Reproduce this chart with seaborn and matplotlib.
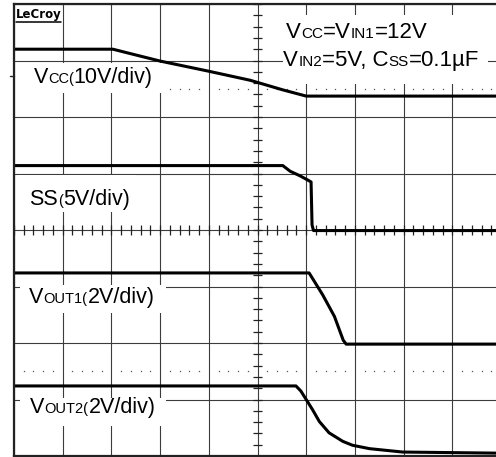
import numpy as np
import pandas as pd
import seaborn as sns
import matplotlib.pyplot as plt
from matplotlib.patches import Rectangle

# Estilo
sns.set_theme(style='white')
plt.rcParams['font.family'] = ['Liberation Sans', 'DejaVu Sans']

vcc_t = [0.0, 2.03, 3.0, 4.0, 4.85, 5.52, 6.0, 10.0]
vcc_v = [7.20, 7.20, 6.99, 6.81, 6.65, 6.48, 6.37, 6.37]

ss_t = [0.0, 5.52, 5.67, 5.87, 6.02, 6.10, 6.12, 6.15, 10.0]
ss_v = [5.14, 5.14, 5.04, 4.96, 4.89, 4.85, 4.09, 3.99, 3.99]

vout1_t = [0.0, 6.06, 6.34, 6.58, 6.76, 6.82, 10.0]
vout1_v = [3.24, 3.24, 2.85, 2.47, 2.05, 1.98, 1.98]

vout2_t = [0.0, 5.79, 5.89, 6.00, 6.13, 6.27, 6.47, 6.75, 6.95, 7.30, 7.98, 10.0]
vout2_v = [1.24, 1.24, 1.15, 1.00, 0.82, 0.61, 0.41, 0.26, 0.19, 0.13, 0.07, 0.05]

traces = {
    'Vcc': (vcc_t, vcc_v),
    'SS': (ss_t, ss_v),
    'Vout1': (vout1_t, vout1_v),
    'Vout2': (vout2_t, vout2_v),
}

# Etiquetas: (texto, grande?)
label_vcc = [('V', True), ('CC(', False), ('10V/div)', True)]
label_ss = [('SS', True), ('(', False), ('5V/div)', True)]
label_vout1 = [('V', True), ('OUT1(', False), ('2V/div)', True)]
label_vout2 = [('V', True), ('OUT2(', False), ('2V/div)', True)]
note_1 = [('V', True), ('CC', False), ('=V', True), ('IN1', False), ('=12V', True)]
note_2 = [('V', True), ('IN2', False), ('=5V, C', True), ('SS', False), ('=0.1µF', True)]

fig = plt.figure(figsize=(4.96, 4.57), dpi=100)
ax = fig.add_axes([14 / 496, 1 / 457, 487 / 496, 452 / 457])
ax.set_xlim(0, 10)
ax.set_ylim(0, 8)
ax.set_facecolor('white')
ax.set_xticks(range(11))
ax.set_yticks(range(9))
ax.tick_params(length=0, labelbottom=False, labelleft=False)
ax.grid(True, color='#3c3c3c', lw=0.8)
ax.set_axisbelow(True)
for sp in ax.spines.values():
    sp.set_color('#222222')
    sp.set_linewidth(1.6)
    sp.set_zorder(6)

# ejes centrales con subdivisiones
minor_x = np.arange(0, 10.01, 0.2)
minor_y = np.arange(0, 8.01, 0.2)
ax.vlines(minor_x, 4 - 0.08, 4 + 0.08, color='#222222', lw=0.9, zorder=1.5)
ax.hlines(minor_y, 5 - 0.1, 5 + 0.1, color='#222222', lw=0.9, zorder=1.5)

# líneas punteadas (cursores)
dots_x = [v for v in minor_x if abs(v - round(v)) > 0.05]
for yl in (6.5, 1.5):
    ax.plot(dots_x, [yl] * len(dots_x), ls='none', marker='s', ms=0.9,
            mew=0, color='#555555', zorder=1.2)

# fondos blancos de las etiquetas
for x0, x1, y0, y1 in [(0.12, 3.12, 6.42, 6.96), (0.06, 2.5, 4.32, 4.97),
                       (0.12, 3.12, 2.53, 3.02), (0.12, 3.12, 0.53, 1.03),
                       (5.52, 9.73, 6.58, 7.81)]:
    ax.add_patch(Rectangle((x0, y0), x1 - x0, y1 - y0, facecolor='white',
                           edgecolor='none', zorder=2))

# trazas
for name, (t, v) in traces.items():
    df = pd.DataFrame({'t': t, 'v': v})
    sns.lineplot(data=df, x='t', y='v', color='black', lw=2.2, ax=ax,
                 estimator=None, sort=False, zorder=3)
ax.set_xlabel('')
ax.set_ylabel('')

renderer = fig.canvas.get_renderer()


def rich_text(x, y, parts, big=15.5, small=10.5):
    for s, is_big in parts:
        t = ax.text(x, y, s, fontsize=big if is_big else small, va='baseline',
                    ha='left', color='black', zorder=4)
        bb = t.get_window_extent(renderer)
        x = ax.transData.inverted().transform((bb.x1, bb.y0))[0]


rich_text(0.40, 6.60, label_vcc)
rich_text(0.31, 4.45, label_ss)
rich_text(0.31, 2.71, label_vout1)
rich_text(0.33, 0.76, label_vout2)
rich_text(5.59, 7.40, note_1, big=16, small=11)
rich_text(5.53, 6.90, note_2, big=16, small=11)

# marca de canal a la izquierda
ax.plot([-0.08, 0], [6.73, 6.73], color='#222222', lw=1.0, clip_on=False)

# logo
ax.text(0.04, 7.75, 'LeCroy', family='DejaVu Sans', fontweight='bold',
        fontsize=8.5, va='baseline', ha='left', color='black', zorder=4)
ax.plot([0.04, 0.96], [7.68, 7.68], color='black', lw=1.1, zorder=4)

fig.savefig('out.png', dpi=100)
plt.close(fig)
